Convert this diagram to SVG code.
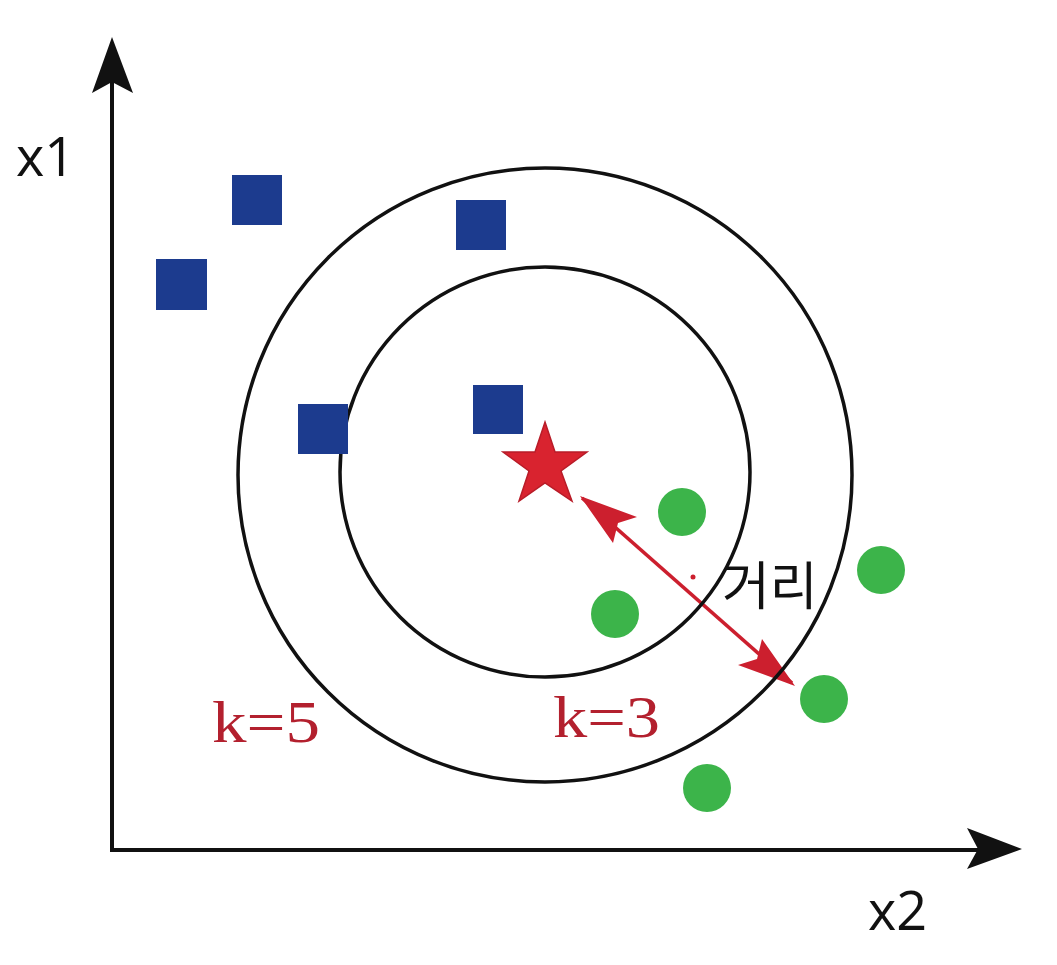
<svg xmlns="http://www.w3.org/2000/svg" width="1057" height="965" viewBox="0 0 1057 965">
<defs>
<style>
.sq{fill:#1c3b8e}
.gr{fill:#3cb44a}
.ring{fill:none;stroke:#111;stroke-width:3.5}
.ax{stroke:#111;stroke-width:4;fill:none}
.lbl{font-family:"Open Sans","Noto Sans","Liberation Sans",sans-serif;font-size:54px;fill:#111}
.k{font-family:"Liberation Serif",serif;font-size:60px;fill:#b3202e}
</style>
</defs>
<rect width="1057" height="965" fill="#fff"/>
<g id="connectors">
<g id="y-axis">
<line class="ax" x1="112" y1="852" x2="112" y2="80"/>
<path d="M112,37 L133,93 L112,82 L92,93 Z" fill="#111"/>
</g>
<g id="x-axis">
<line class="ax" x1="110" y1="850" x2="980" y2="850"/>
<path d="M1022,849 L967,828 L978,849 L967,869 Z" fill="#111"/>
</g>
<g id="distance">
<line x1="582" y1="498" x2="792" y2="683" stroke="#cc1f2e" stroke-width="3.5"/>
<path d="M580,496 L637,517 L618,523 L613,543 Z" fill="#cc1f2e"/>
<path d="M795,686 L738,665 L757,659 L762,639 Z" fill="#cc1f2e"/>
</g>
</g>
<g id="rings">
<circle id="k5-ring" class="ring" cx="545" cy="475" r="307"/>
<circle id="k3-ring" class="ring" cx="545" cy="472" r="205"/>
</g>
<g id="squares">
<rect id="sq1" class="sq" x="232" y="175" width="50" height="50"/>
<rect id="sq2" class="sq" x="156" y="259" width="51" height="51"/>
<rect id="sq3" class="sq" x="456" y="200" width="50" height="50"/>
<rect id="sq4" class="sq" x="298" y="404" width="50" height="50"/>
<rect id="sq5" class="sq" x="473" y="385" width="50" height="49"/>
</g>
<g id="circles">
<circle id="c1" class="gr" cx="682" cy="512" r="24"/>
<circle id="c2" class="gr" cx="881" cy="570" r="24"/>
<circle id="c3" class="gr" cx="615" cy="614" r="24"/>
<circle id="c4" class="gr" cx="824" cy="699" r="24"/>
<circle id="c5" class="gr" cx="707" cy="788" r="24"/>
</g>
<g id="star">
<polygon points="545,422 555,452 587,452 561,471 572,501 545,483 519,501 529,471 503,452 535,452" fill="#d9232f" stroke="#b81c28" stroke-width="1.5"/>
</g>
<circle cx="693" cy="577" r="2.5" fill="#cc1f2e"/>
<g id="labels">
<text class="lbl" x="16" y="176">x1</text>
<text class="lbl" x="868" y="930">x2</text>
<text x="722" y="605" font-family="Noto Sans CJK KR,sans-serif" font-size="52" fill="#111">거리</text>
<text class="k" x="212" y="742" textLength="108" lengthAdjust="spacingAndGlyphs">k=5</text>
<text class="k" x="553" y="737" textLength="107" lengthAdjust="spacingAndGlyphs">k=3</text>
</g>
</svg>
